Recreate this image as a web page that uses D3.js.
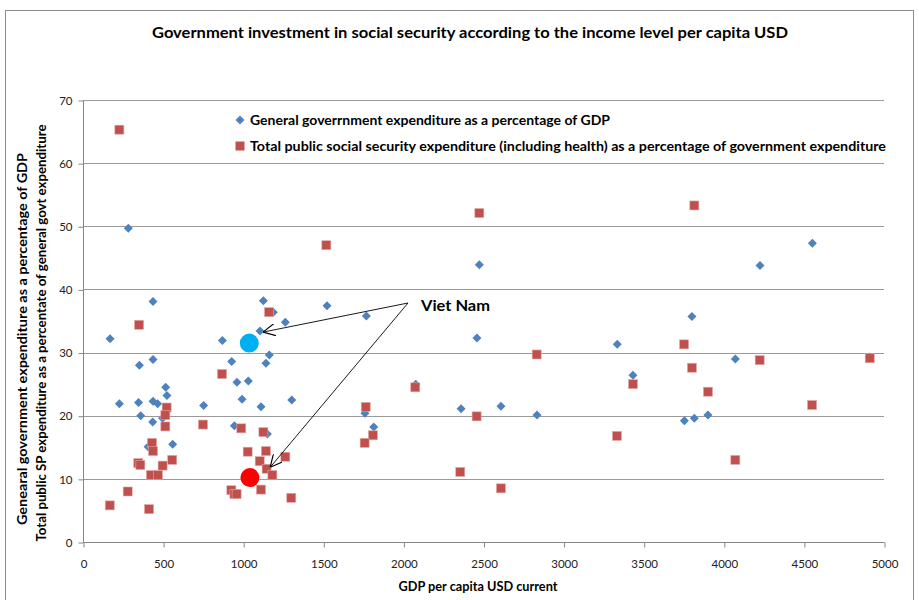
<!DOCTYPE html>
<html><head><meta charset="utf-8">
<script src="https://cdn.jsdelivr.net/npm/d3@7"></script>
<style>body{margin:0;background:#fff}svg{display:block;font-family:Lato,"Open Sans",sans-serif}</style>
</head><body>
<svg id="c" width="919" height="600"></svg>
<script>
// Data
const title = "Government investment in social security according to the income level per capita USD";
const xTicks = [0,500,1000,1500,2000,2500,3000,3500,4000,4500,5000];
const yTicks = [0,10,20,30,40,50,60,70];
const seriesNames = ["General goverrnment expenditure as a percentage of GDP",
  "Total public social security expenditure (including health) as a percentage of government expenditure"];
const blueGDP = [437,1126,1188,169,1105,870,352,437,928,1163,1142,961,1032,516,524,993,227,347,437,466,753,1111,360,435,497,945,1151,406,560,1523,1263,1303,1769,2459,2077,2360,2609,2834,1760,1815,2474,283,4553,4226,3801,3335,4072,4911,3433,3754,3816,3901];
const blueVal = [38.1,38.2,36.4,32.2,33.4,31.9,28.0,28.9,28.6,29.6,28.3,25.3,25.5,24.5,23.2,22.6,21.9,22.1,22.3,21.9,21.6,21.4,20.0,19.0,19.6,18.4,17.1,15.1,15.5,37.4,34.8,22.5,35.8,32.3,25.0,21.1,21.5,20.1,20.4,18.2,43.9,49.7,47.3,43.8,35.7,31.3,29.0,29.3,26.4,19.2,19.6,20.1];
const redGDP = [227,350,868,522,514,514,749,988,1126,431,437,1028,1142,345,358,497,557,1103,1146,1182,424,468,926,945,959,1111,279,167,412,1263,1300,1161,1519,2474,3816,3752,4224,4911,3801,3433,3901,4551,3333,4072,2832,2074,1765,2457,1810,1758,2355,2609];
const redVal = [65.3,34.4,26.6,21.3,20.1,18.3,18.6,18.0,17.4,15.7,14.4,14.3,14.4,12.5,12.2,12.1,13.0,12.8,11.6,10.6,10.6,10.6,8.2,7.6,7.6,8.3,8.0,5.8,5.2,13.5,7.0,36.4,47.0,52.1,53.3,31.3,28.8,29.1,27.6,25.0,23.8,21.7,16.8,13.0,29.7,24.5,21.4,19.9,16.9,15.7,11.1,8.5];
const vnGDP = [1038, 1042];
const vnVal = [31.5, 10.2];
const vnLabel = "Viet Nam";
const vnArrowTargets = [[1105,33.4],[1150,12.0]];
const yTitle = ["Genearal government expenditure as a percentage of GDP",
  "Total public SP expenditure as a percentate of general govt expenditure"];
const xTitle = "GDP per capita USD current";

const svg = d3.select("#c");
const x = d3.scaleLinear().domain([0,5000]).range([83,884]);
const y = d3.scaleLinear().domain([0,70]).range([542,100]);

// outer border
svg.append("rect").attr("x",5.5).attr("y",10.5).attr("width",908).attr("height",600)
  .attr("fill","none").attr("stroke","#8c8c8c").attr("stroke-width",1);

svg.append("defs").append("marker").attr("id","ah").attr("viewBox","0 0 10 10")
  .attr("refX",10).attr("refY",5).attr("markerWidth",12).attr("markerHeight",12)
  .attr("markerUnits","userSpaceOnUse").attr("orient","auto")
  .append("path").attr("d","M0,0 L10,5 L0,10").attr("fill","none").attr("stroke","#000").attr("stroke-width",1);

// title
svg.append("text").attr("x",470).attr("y",38).attr("text-anchor","middle")
  .attr("font-size",14.5).attr("font-weight","bold").attr("fill","#000")
  .attr("textLength",636).attr("lengthAdjust","spacingAndGlyphs").text(title);

// gridlines
svg.append("g").selectAll("line").data(yTicks.filter(d=>d>0)).join("line")
  .attr("x1",83).attr("x2",884).attr("y1",d=>Math.round(y(d))+0.5).attr("y2",d=>Math.round(y(d))+0.5)
  .attr("stroke","#9a9a9a").attr("stroke-width",1);

// axes
const yAxis = d3.axisLeft(y).tickValues(yTicks).tickSize(5).tickPadding(6).tickFormat(d3.format("d"));
const gy = svg.append("g").attr("transform","translate(83.5,0.5)").call(yAxis);
const xAxis = d3.axisBottom(x).tickValues(xTicks).tickSize(5).tickPadding(12).tickFormat(d3.format("d"));
const gx = svg.append("g").attr("transform","translate(0.5,542.5)").call(xAxis);
[gx,gy].forEach(g=>{
  g.select(".domain").attr("stroke","#868686");
  g.selectAll(".tick line").attr("stroke","#868686");
  g.selectAll(".tick text").attr("font-size",11.5).attr("fill","#222").attr("font-family","Lato, sans-serif");
});
gx.select(".domain").attr("d","M83,0H884");
gy.select(".domain").attr("d","M0,542H0V100");

// axis titles
svg.append("text").attr("transform","translate(27,339) rotate(-90)").attr("text-anchor","middle")
  .attr("font-size",12.5).attr("font-weight","bold").attr("fill","#000")
  .attr("textLength",372).attr("lengthAdjust","spacingAndGlyphs").text(yTitle[0]);
svg.append("text").attr("transform","translate(46,333) rotate(-90)").attr("text-anchor","middle")
  .attr("font-size",12.5).attr("font-weight","bold").attr("fill","#000")
  .attr("textLength",417).attr("lengthAdjust","spacingAndGlyphs").text(yTitle[1]);
svg.append("text").attr("x",478).attr("y",591).attr("text-anchor","middle")
  .attr("font-size",13).attr("font-weight","bold").attr("fill","#000")
  .attr("textLength",159).attr("lengthAdjust","spacingAndGlyphs").text(xTitle);

// blue diamonds
const blue = blueGDP.map((g,i)=>[g,blueVal[i]]);
const red = redGDP.map((g,i)=>[g,redVal[i]]);
const diamond = "M0,-4.5L4.5,0L0,4.5L-4.5,0Z";
svg.append("g").selectAll("path").data(blue).join("path")
  .attr("d",diamond).attr("transform",d=>`translate(${x(d[0])},${y(d[1])})`)
  .attr("fill","#4F81BD");
// cyan Vietnam circle
svg.append("circle").attr("cx",x(vnGDP[0])).attr("cy",y(vnVal[0])).attr("r",9.5).attr("fill","#00B0F0");
// red squares
svg.append("g").selectAll("rect").data(red).join("rect")
  .attr("x",d=>x(d[0])-4.5).attr("y",d=>y(d[1])-4.5).attr("width",9).attr("height",9)
  .attr("fill","#C0504D").attr("stroke","#e3a6a4").attr("stroke-width",0.6);
svg.append("circle").attr("cx",x(vnGDP[1])).attr("cy",y(vnVal[1])).attr("r",9.5).attr("fill","#FF0000");

// legend
const lg = svg.append("g");
lg.append("path").attr("d",diamond).attr("transform","translate(240,120)").attr("fill","#4F81BD");
lg.append("text").attr("x",250).attr("y",124.5).attr("font-size",12.5).attr("font-weight","bold")
  .attr("textLength",360).attr("lengthAdjust","spacingAndGlyphs").text(seriesNames[0]);
lg.append("rect").attr("x",235.5).attr("y",141.5).attr("width",9).attr("height",9).attr("fill","#C0504D");
lg.append("text").attr("x",250).attr("y",150.5).attr("font-size",12.5).attr("font-weight","bold")
  .attr("textLength",636).attr("lengthAdjust","spacingAndGlyphs").text(seriesNames[1]);

// annotation
const ox = 408, oy = 303;
svg.append("g").selectAll("line").data(vnArrowTargets).join("line")
  .attr("x1",ox).attr("y1",oy).attr("x2",d=>x(d[0])+3).attr("y2",d=>y(d[1])+1)
  .attr("stroke","#000").attr("stroke-width",0.9).attr("marker-end","url(#ah)");
svg.append("text").attr("x",421).attr("y",311).attr("font-size",16).attr("font-weight","bold")
  .attr("textLength",69).attr("lengthAdjust","spacingAndGlyphs").text(vnLabel);
</script>
</body></html>
